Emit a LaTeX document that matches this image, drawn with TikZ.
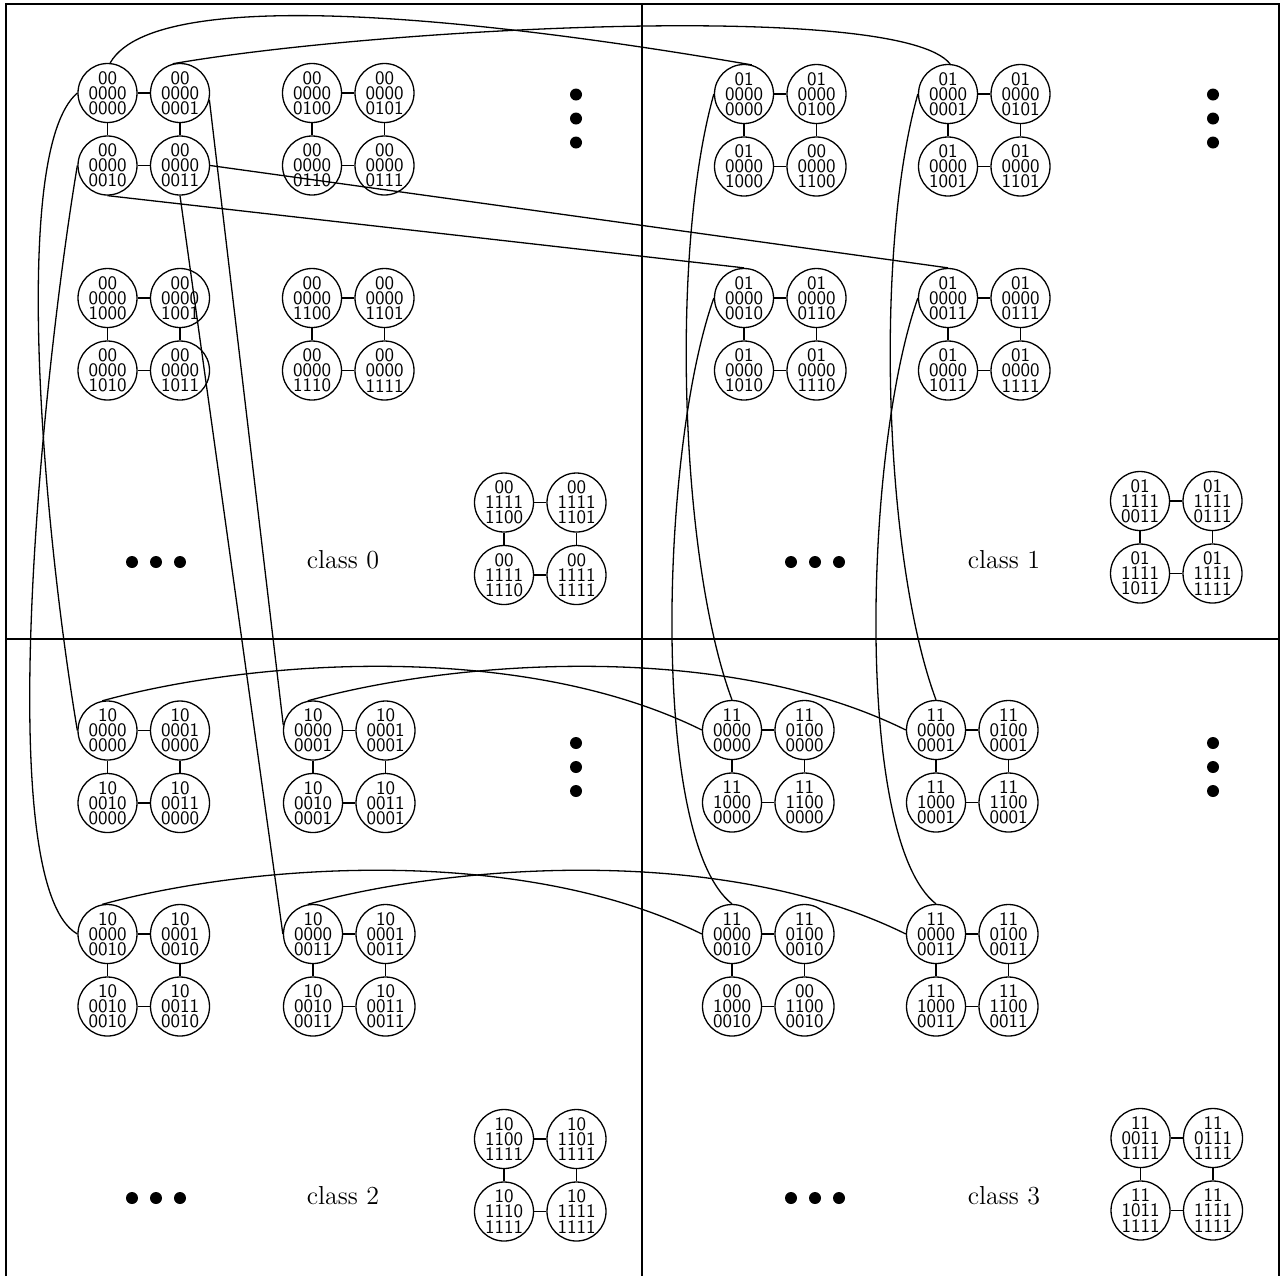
\documentclass[tikz,border=0pt]{standalone}
\usepackage{fontspec}
\begin{document}
\begin{tikzpicture}[x=0.5pt,y=-0.5pt,
  cn/.style={circle,draw,line width=0.65pt,minimum size=29.5pt,inner sep=0pt,align=center,
     font=\sffamily\fontsize{9.5}{7.6}\selectfont},
  ln/.style={line width=0.65pt},
  frame/.style={line width=0.8pt},
  dotn/.style={circle,fill,inner sep=0pt,minimum size=6pt},
  cls/.style={font=\fontsize{13}{15}\selectfont,anchor=base}]
\useasboundingbox (0,0) rectangle (1285,1276);
\draw[frame] (6,1276) -- (6,4) -- (1279,4) -- (1279,1276);
\draw[frame] (642,4) -- (642,1276);
\draw[frame] (6,639) -- (1279,639);
\newcommand\grp[7]{%
  \node[cn] (#11) at (#2,#3) {#4};
  \node[cn] (#12) at ({#2+72.5},#3) {#5};
  \node[cn] (#13) at (#2,{#3+72.5}) {#6};
  \node[cn] (#14) at ({#2+72.5},{#3+72.5}) {#7};
  \draw[ln] (#11) -- (#12);
  \draw[ln] (#11) -- (#13);
  \draw[ln] (#12) -- (#14);
  \draw[ln] (#13) -- (#14);
}
% class 0
\grp{q0a}{107.5}{93}{00\\0000\\0000}{00\\0000\\0001}{00\\0000\\0010}{00\\0000\\0011}
\grp{q0b}{312}{93}{00\\0000\\0100}{00\\0000\\0101}{00\\0000\\0110}{00\\0000\\0111}
\grp{q0c}{107.5}{298}{00\\0000\\1000}{00\\0000\\1001}{00\\0000\\1010}{00\\0000\\1011}
\grp{q0d}{312}{298}{00\\0000\\1100}{00\\0000\\1101}{00\\0000\\1110}{00\\0000\\1111}
\grp{q0e}{504}{502.5}{00\\1111\\1100}{00\\1111\\1101}{00\\1111\\1110}{00\\1111\\1111}
% class 1
\grp{q1a}{744}{94}{01\\0000\\0000}{01\\0000\\0100}{01\\0000\\1000}{00\\0000\\1100}
\grp{q1b}{948}{94}{01\\0000\\0001}{01\\0000\\0101}{01\\0000\\1001}{01\\0000\\1101}
\grp{q1c}{744}{298}{01\\0000\\0010}{01\\0000\\0110}{01\\0000\\1010}{01\\0000\\1110}
\grp{q1d}{948}{298}{01\\0000\\0011}{01\\0000\\0111}{01\\0000\\1011}{01\\0000\\1111}
\grp{q1e}{1140}{501}{01\\1111\\0011}{01\\1111\\0111}{01\\1111\\1011}{01\\1111\\1111}
% class 2
\grp{q2a}{107.5}{730.5}{10\\0000\\0000}{10\\0001\\0000}{10\\0010\\0000}{10\\0011\\0000}
\grp{q2b}{313}{730.5}{10\\0000\\0001}{10\\0001\\0001}{10\\0010\\0001}{10\\0011\\0001}
\grp{q2c}{107.5}{934}{10\\0000\\0010}{10\\0001\\0010}{10\\0010\\0010}{10\\0011\\0010}
\grp{q2d}{313}{934}{10\\0000\\0011}{10\\0001\\0011}{10\\0010\\0011}{10\\0011\\0011}
\grp{q2e}{504}{1139}{10\\1100\\1111}{10\\1101\\1111}{10\\1110\\1111}{10\\1111\\1111}
% class 3
\grp{q3a}{732}{730}{11\\0000\\0000}{11\\0100\\0000}{11\\1000\\0000}{11\\1100\\0000}
\grp{q3b}{936}{730}{11\\0000\\0001}{11\\0100\\0001}{11\\1000\\0001}{11\\1100\\0001}
\grp{q3c}{732}{934}{11\\0000\\0010}{11\\0100\\0010}{00\\1000\\0010}{00\\1100\\0010}
\grp{q3d}{936}{934}{11\\0000\\0011}{11\\0100\\0011}{11\\1000\\0011}{11\\1100\\0011}
\grp{q3e}{1140.5}{1138}{11\\0011\\1111}{11\\0111\\1111}{11\\1011\\1111}{11\\1111\\1111}
% dots
\foreach \qx/\qy/\nm in {576/94.5/v0,1213/94.5/v1,576/743/v2,1213/743/v3}{
  \node[dotn] (\nm a) at (\qx,\qy) {};
  \node[dotn] (\nm b) at (\qx,{\qy+24}) {};
  \node[dotn] (\nm c) at (\qx,{\qy+48}) {};
}
\foreach \qx/\qy/\nm in {132/562/h0,791/562/h1,132/1198/h2,791/1198/h3}{
  \node[dotn] (\nm a) at (\qx,\qy) {};
  \node[dotn] (\nm b) at ({\qx+24},\qy) {};
  \node[dotn] (\nm c) at ({\qx+48},\qy) {};
}
% class labels
\node[cls] (c0) at (343,568) {class 0};
\node[cls] (c1) at (1004,568) {class 1};
\node[cls] (c2) at (343,1204) {class 2};
\node[cls] (c3) at (1004,1204) {class 3};
% class 0 -> class 1
\draw[ln] (q0a1.85) .. controls (160,-25) and (550,30) .. (q1a1.75);
\draw[ln] (q0a2.104) .. controls (378,28) and (900,0) .. (q1b1.86);
\draw[ln] (q0a3.south) -- (q1c1.north);
\draw[ln] (q0a4.east) -- (q1d1.north);
% class 0 -> class 2
\draw[ln] (q0a1.west) .. controls (10,150) and (43,525) .. (q2a1.west);
\draw[ln] (q0a2.-13) -- (q2b1.170);
\draw[ln] (q0a3.west) .. controls (43,371) and (-10,884) .. (q2c1.west);
\draw[ln] (q0a4.south) -- (q2d1.west);
% class 1 -> class 3
\draw[ln] (q1a1.west) .. controls (670,250) and (680,560) .. (q3a1.north);
\draw[ln] (q1b1.west) .. controls (874,250) and (884,560) .. (q3b1.north);
\draw[ln] (q1c1.west) .. controls (660,450) and (650,840) .. (q3c1.north);
\draw[ln] (q1d1.west) .. controls (864,450) and (854,840) .. (q3d1.north);
% class 2 -> class 3
\draw[ln] (q2a1.100) .. controls (250,660) and (520,640) .. (q3a1.west);
\draw[ln] (q2b1.100) .. controls (454,660) and (724,640) .. (q3b1.west);
\draw[ln] (q2c1.100) .. controls (250,864) and (520,844) .. (q3c1.west);
\draw[ln] (q2d1.100) .. controls (454,864) and (724,844) .. (q3d1.west);
\end{tikzpicture}
\end{document}
